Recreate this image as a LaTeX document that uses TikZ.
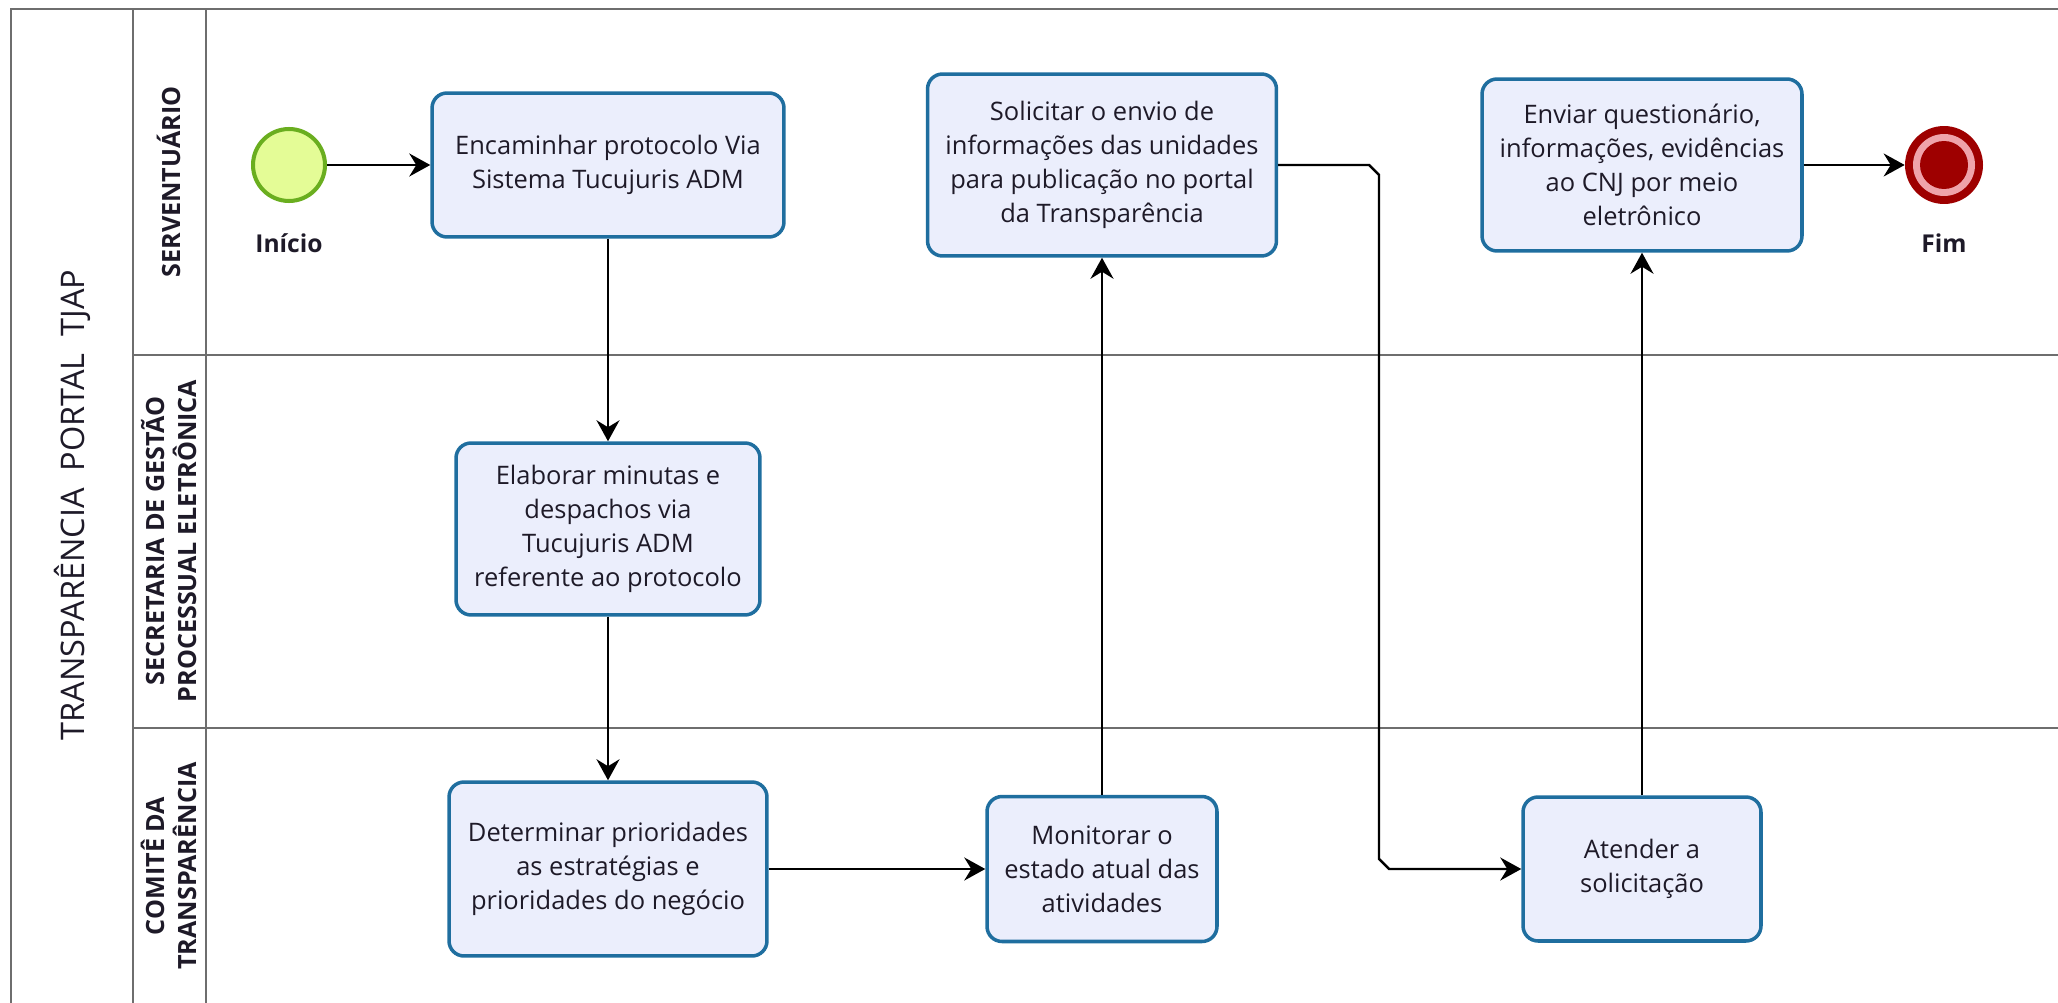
\documentclass[tikz,border=0pt]{standalone}
\usepackage{fontspec}
\setmainfont{Open Sans}
\usepackage{tikz}
\usetikzlibrary{arrows.meta, calc}
\definecolor{taskfill}{HTML}{EBEEFC}
\definecolor{taskline}{HTML}{1F6E9F}
\definecolor{startfill}{HTML}{E4FC96}
\definecolor{startline}{HTML}{6AAE1F}
\definecolor{endred}{HTML}{9E0000}
\definecolor{endpink}{HTML}{EFA3AA}
\definecolor{laneline}{HTML}{6E6E6E}
\definecolor{txt}{HTML}{1E1A28}

\begin{document}
\begin{tikzpicture}[x=0.02cm, y=-0.02cm,
  task/.style={draw=taskline, fill=taskfill, line width=2pt, rounded corners=0.3cm, align=center, text=txt, font=\fontsize{14.5}{19.4}\selectfont, inner sep=0pt},
  startev/.style={circle, draw=startline, fill=startfill, line width=2.3pt, minimum size=1.44cm, inner sep=0pt},
  endev/.style={circle, fill=endred, minimum size=1.56cm, inner sep=0pt},
  evlabel/.style={font=\bfseries\fontsize{14}{16}\selectfont, text=txt},
  lanelabel/.style={rotate=90, align=center, font=\bfseries\fontsize{14.3}{18.2}\selectfont, text=txt},
  lane/.style={draw=laneline, line width=1.1pt},
  flow/.style={draw=black, line width=1.4pt, -{Stealth[length=0.42cm, width=0.46cm, inset=0.14cm]}}]
  \useasboundingbox (0,0) rectangle (2058,1003);
  \draw[lane, line width=1.6pt] (11,1003) -- (11,9) -- (2058,9);
  \draw[lane] (133,9) -- (133,1003);
  \draw[lane] (206,9) -- (206,1003);
  \draw[lane] (133,355) -- (2058,355);
  \draw[lane] (133,728) -- (2058,728);
  \node[rotate=90, font=\fontsize{18.5}{20}\selectfont, text=txt] (pool) at (72,505) {TRANSPARÊNCIA\ \ PORTAL\ \ TJAP};
  \node[lanelabel] (serv) at (169,182) {SERVENTUÁRIO};
  \node[lanelabel] (sec) at (169,541) {SECRETARIA DE GESTÃO\\PROCESSUAL ELETRÔNICA};
  \node[lanelabel] (com) at (169,866) {COMITÊ DA\\TRANSPARÊNCIA};
  \node[startev] (inicio) at (289,165) {};
  \node[evlabel] (inicioTxt) at (289,243) {Início};
  \node[task, minimum width=7.04cm, minimum height=2.88cm] (enc) at (608,165) {Encaminhar protocolo Via\\Sistema Tucujuris ADM};
  \node[task, minimum width=6.08cm, minimum height=3.44cm] (ela) at (608,529) {Elaborar minutas e\\despachos via\\Tucujuris ADM\\referente ao protocolo};
  \node[task, minimum width=6.36cm, minimum height=3.48cm] (det) at (608,869) {Determinar prioridades\\as estratégias e\\prioridades do negócio};
  \node[task, minimum width=4.6cm, minimum height=2.9cm] (mon) at (1102,869) {Monitorar o\\estado atual das\\atividades};
  \node[task, minimum width=6.98cm, minimum height=3.64cm] (sol) at (1102,165) {Solicitar o envio de\\informações das unidades\\para publicação no portal\\da Transparência};
  \node[task, minimum width=4.76cm, minimum height=2.88cm] (ate) at (1642,869) {Atender a\\solicitação};
  \node[task, minimum width=6.4cm, minimum height=3.44cm] (env) at (1642,165) {Enviar questionário,\\informações, evidências\\ao CNJ por meio\\eletrônico};
  \node[endev] (fim) at (1944,165) {};
  \fill[endpink] (fim.center) circle (0.62cm);
  \fill[endred] (fim.center) circle (0.48cm);
  \node[evlabel] (fimTxt) at (1944,243) {Fim};
  \coordinate (jog) at (1379,165);
  \draw[flow] (inicio) -- (enc);
  \draw[flow] (enc) -- (ela);
  \draw[flow] (ela) -- (det);
  \draw[flow] (det) -- (mon);
  \draw[flow] (mon) -- (sol);
  \draw[flow] (sol.east) -- ($(jog)+(-10,0)$) -- ($(jog)+(0,10)$) -- ($(ate.west -| jog)+(0,-10)$) -- ($(ate.west -| jog)+(10,0)$) -- (ate.west);
  \draw[flow] (ate) -- (env);
  \draw[flow] (env) -- (fim);
\end{tikzpicture}
\end{document}
